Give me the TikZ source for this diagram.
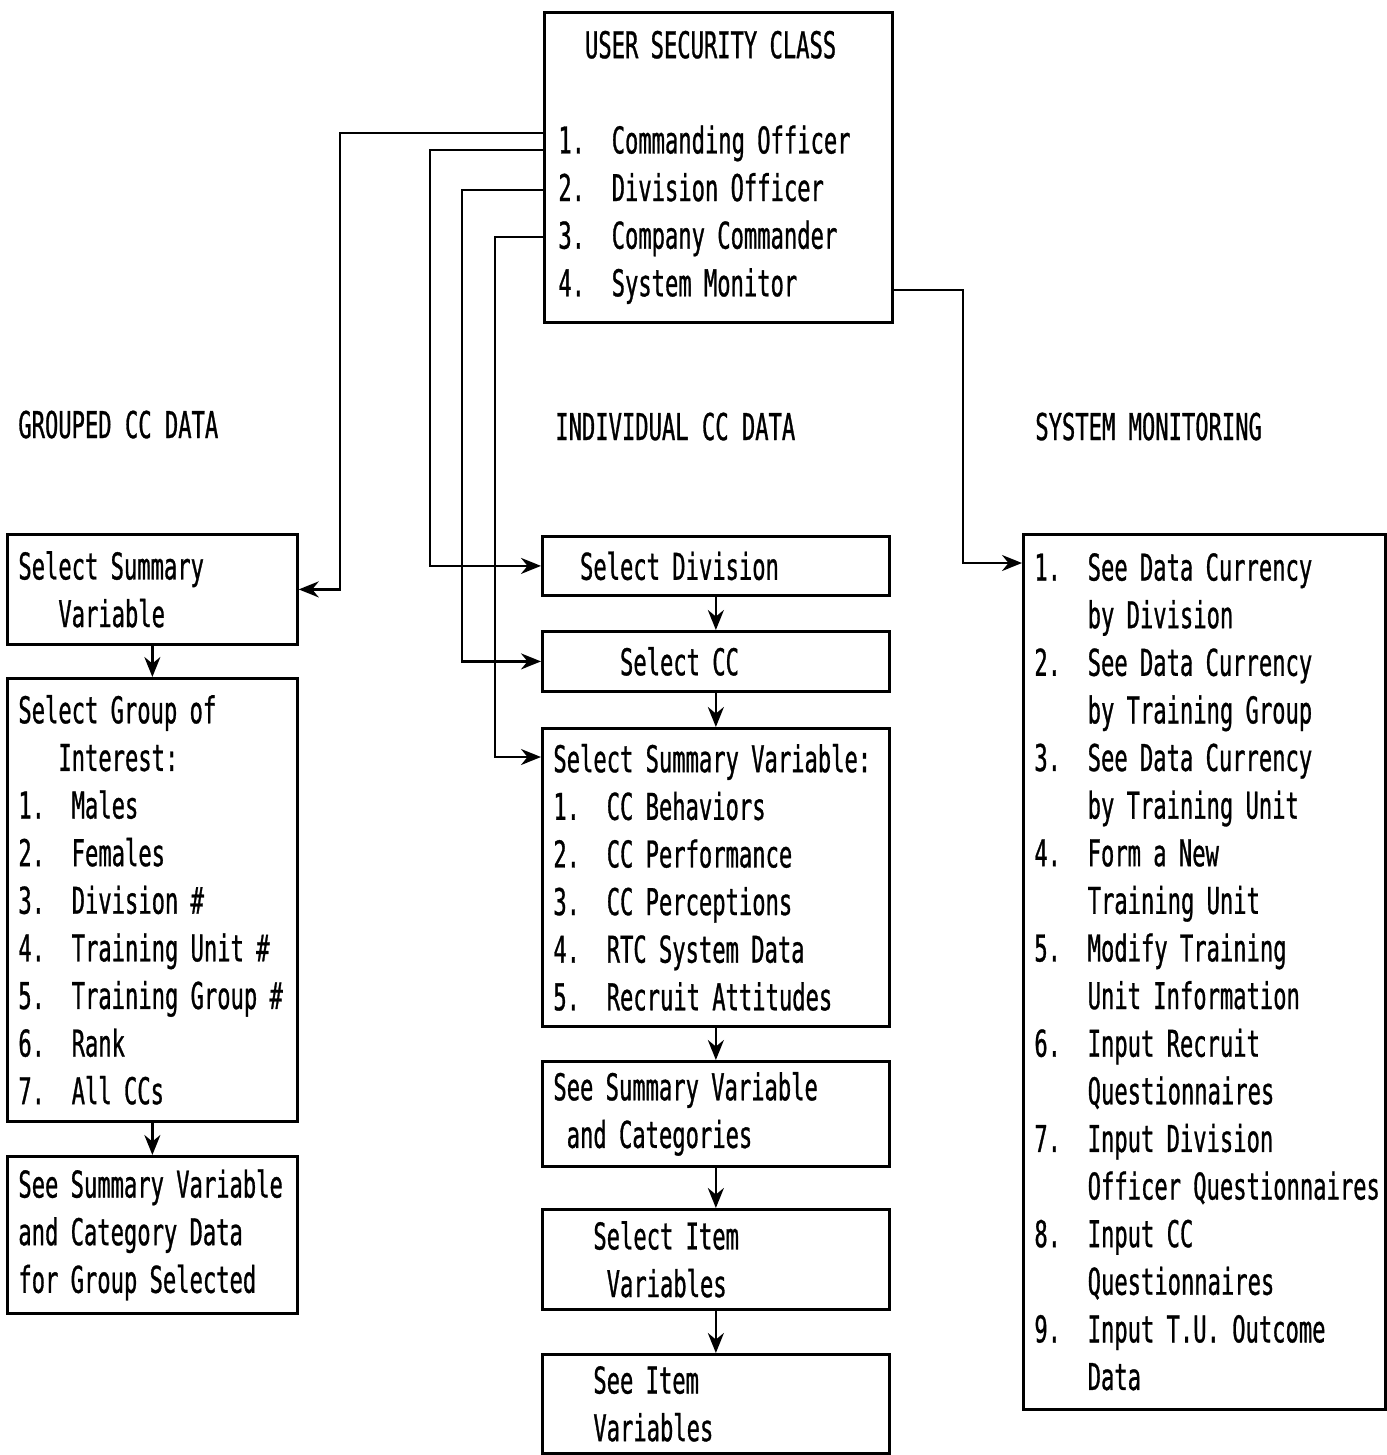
\documentclass[tikz,border=0pt]{standalone}
\usepackage{fontspec}
\usetikzlibrary{arrows.meta}
\newfontfamily\typefont[FakeStretch=0.6, FakeBold=0.8]{DejaVu Sans Mono}
\newcommand\ind[1]{\hspace*{#1\fontcharwd\font`0}}
\newcommand\itm[2]{\makebox[4\fontcharwd\font`0][l]{#1}#2}

\tikzset{
  chartbox/.style={draw, line width=1.6pt, anchor=north west, align=left,
    inner xsep=0.22cm, inner ysep=2pt},
  flow/.style={line width=1.4pt, -{Stealth[length=0.4cm, width=0.32cm]}},
  heading/.style={anchor=base west, inner sep=0pt},
}

\begin{document}
\begin{tikzpicture}[x=0.02cm, y=-0.02cm, font=\typefont\fontsize{21}{27.1}\selectfont]
            \useasboundingbox (0,0) rectangle (1387,1455);

            \node[chartbox, inner xsep=0.28cm, text width=6.4cm, minimum height=6.2cm] (usc) at (543,11)
              {\ind{2}USER SECURITY CLASS\\ \mbox{}\\
               \itm{1.}{Commanding Officer}\\
               \itm{2.}{Division Officer}\\
               \itm{3.}{Company Commander}\\
               \itm{4.}{System Monitor}};

            \node[heading] (hgroup) at (18,438) {GROUPED CC DATA};
            \node[heading] (hindiv) at (555,440) {INDIVIDUAL CC DATA};
            \node[heading] (hsys) at (1035,440) {SYSTEM MONITORING};

            \node[chartbox, text width=5.36cm, minimum height=2.2cm] (gsel) at (6,533)
              {Select Summary\\ \ind{3}Variable};
            \node[chartbox, text width=5.36cm, minimum height=8.86cm] (ggroup) at (6,677)
              {Select Group of\\ \ind{3}Interest:\\
               \itm{1.}{Males}\\
               \itm{2.}{Females}\\
               \itm{3.}{Division \#}\\
               \itm{4.}{Training Unit \#}\\
               \itm{5.}{Training Group \#}\\
               \itm{6.}{Rank}\\
               \itm{7.}{All CCs}};
            \node[chartbox, text width=5.36cm, minimum height=3.14cm] (gsee) at (6,1155)
              {See Summary Variable\\ and Category Data\\ for Group Selected};

            \node[chartbox, text width=6.5cm, minimum height=1.18cm] (idiv) at (541,535)
              {\ind{2}Select Division};
            \node[chartbox, text width=6.5cm, minimum height=1.2cm] (icc) at (541,630)
              {\ind{5}Select CC};
            \node[chartbox, text width=6.5cm, minimum height=5.96cm] (isum) at (541,727)
              {Select Summary Variable:\\
               \itm{1.}{CC Behaviors}\\
               \itm{2.}{CC Performance}\\
               \itm{3.}{CC Perceptions}\\
               \itm{4.}{RTC System Data}\\
               \itm{5.}{Recruit Attitudes}};
            \node[chartbox, text width=6.5cm, minimum height=2.1cm] (isee) at (541,1060)
              {See Summary Variable\\ \ind{1}and Categories};
            \node[chartbox, text width=6.5cm, minimum height=2.0cm] (iitem) at (541,1208)
              {\ind{3}Select Item\\ \ind{4}Variables};
            \node[chartbox, text width=6.5cm, minimum height=1.98cm] (iseeitem) at (541,1353)
              {\ind{3}See Item\\ \ind{3}Variables};

            \node[chartbox, text width=6.8cm, minimum height=17.5cm] (sys) at (1022,533)
              {\itm{1.}{See Data Currency}\\ \ind{4}by Division\\
               \itm{2.}{See Data Currency}\\ \ind{4}by Training Group\\
               \itm{3.}{See Data Currency}\\ \ind{4}by Training Unit\\
               \itm{4.}{Form a New}\\ \ind{4}Training Unit\\
               \itm{5.}{Modify Training}\\ \ind{4}Unit Information\\
               \itm{6.}{Input Recruit}\\ \ind{4}Questionnaires\\
               \itm{7.}{Input Division}\\ \ind{4}\mbox{Officer Questionnaires}\\
               \itm{8.}{Input CC}\\ \ind{4}Questionnaires\\
               \itm{9.}{Input T.U. Outcome}\\ \ind{4}Data};

            \draw[flow] (usc.west |- 0,133) -- ++(-203,0) |- (gsel.east);
            \draw[flow] (usc.west |- 0,150) -- ++(-113,0) |- (idiv.west);
            \draw[flow] (usc.west |- 0,190) -- ++(-81,0) |- (icc.west);
            \draw[flow] (usc.west |- 0,237) -- ++(-48,0) |- (isum.west |- 0,757);
            \draw[flow] (usc.east |- 0,290) -- ++(69,0) |- (sys.west |- 0,563);

            \draw[flow] (gsel.south) -- (ggroup.north);
            \draw[flow] (ggroup.south) -- (gsee.north);

            \draw[flow] (idiv.south) -- (icc.north);
            \draw[flow] (icc.south) -- (isum.north);
            \draw[flow] (isum.south) -- (isee.north);
            \draw[flow] (isee.south) -- (iitem.north);
            \draw[flow] (iitem.south) -- (iseeitem.north);
        \end{tikzpicture}
\end{document}
